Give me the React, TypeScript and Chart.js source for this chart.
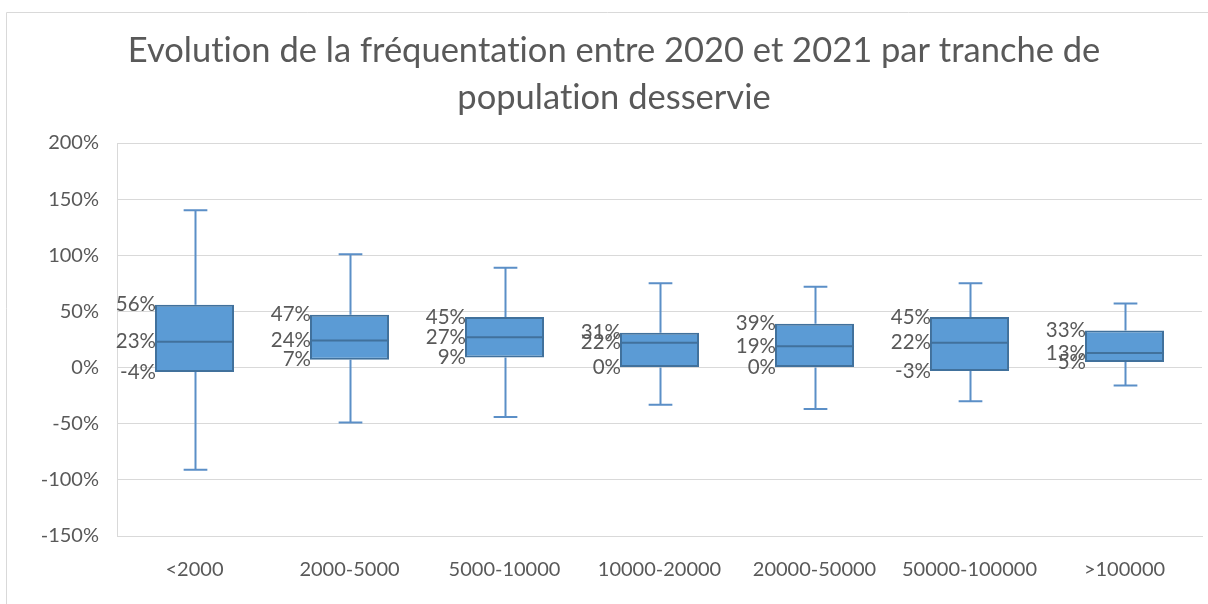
import React, { useEffect, useRef } from "react";
import { Chart, registerables } from "chart.js";

Chart.register(...registerables);

const categories = ["<2000", "2000-5000", "5000-10000", "10000-20000", "20000-50000", "50000-100000", ">100000"];
const minValues = [-91, -49, -44, -33, -37, -30, -16];
const q1Values = [-4, 7, 9, 0, 0, -3, 5];
const medianValues = [23, 24, 27, 22, 19, 22, 13];
const q3Values = [56, 47, 45, 31, 39, 45, 33];
const maxValues = [140, 101, 89, 75, 72, 75, 57];
const yTicks = [-150, -100, -50, 0, 50, 100, 150, 200];
const titleLines = ["Evolution de la fréquentation entre 2020 et 2021 par tranche de", "population desservie"];

const FONT = "Lato, 'Open Sans', sans-serif";
const TEXT = "#595959";
const GRID = "#D9D9D9";
const BOX_FILL = "#5B9BD5";
const BOX_EDGE = "#41719C";
const WHISKER = "#5B8FC7";

const boxPlugin = {
  id: "boxExtras",
  beforeDraw(chart: any) {
    const ctx = chart.ctx;
    ctx.save();
    ctx.strokeStyle = GRID;
    ctx.lineWidth = 1;
    ctx.beginPath();
    ctx.moveTo(6.5, chart.height + 5);
    ctx.lineTo(6.5, 12.5);
    ctx.lineTo(chart.width + 5, 12.5);
    ctx.stroke();
    ctx.fillStyle = TEXT;
    ctx.font = `34.5px ${FONT}`;
    try { (ctx as any).textRendering = "optimizeSpeed"; } catch (e) {}
    ctx.textAlign = "center";
    ctx.textBaseline = "middle";
    titleLines.forEach((l, i) => ctx.fillText(l, 614, 51 + i * 47));
    ctx.restore();
  },
  beforeDatasetsDraw(chart: any) {
    const ctx = chart.ctx;
    const y = chart.scales.y;
    const meta = chart.getDatasetMeta(0);
    ctx.save();
    ctx.strokeStyle = WHISKER;
    ctx.lineWidth = 2;
    meta.data.forEach((bar: any, i: number) => {
      const x = Math.round(bar.x) + 0.5;
      const cap = bar.width * 0.3;
      const yMax = y.getPixelForValue(maxValues[i]);
      const yMin = y.getPixelForValue(minValues[i]);
      ctx.beginPath();
      ctx.moveTo(x, y.getPixelForValue(q3Values[i]));
      ctx.lineTo(x, yMax);
      ctx.moveTo(x - cap / 2, yMax);
      ctx.lineTo(x + cap / 2, yMax);
      ctx.moveTo(x, y.getPixelForValue(q1Values[i]));
      ctx.lineTo(x, yMin);
      ctx.moveTo(x - cap / 2, yMin);
      ctx.lineTo(x + cap / 2, yMin);
      ctx.stroke();
    });
    ctx.restore();
  },
  afterDatasetsDraw(chart: any) {
    const ctx = chart.ctx;
    const y = chart.scales.y;
    const meta = chart.getDatasetMeta(0);
    ctx.save();
    meta.data.forEach((bar: any, i: number) => {
      const left = bar.x - bar.width / 2;
      const right = bar.x + bar.width / 2;
      const ym = y.getPixelForValue(medianValues[i]);
      ctx.strokeStyle = BOX_EDGE;
      ctx.lineWidth = 2;
      ctx.beginPath();
      ctx.moveTo(left, ym);
      ctx.lineTo(right, ym);
      ctx.stroke();
      ctx.fillStyle = TEXT;
      ctx.font = `20.5px ${FONT}`;
      ctx.textAlign = "right";
      ctx.textBaseline = "middle";
      [q3Values[i], medianValues[i], q1Values[i]].forEach((v) => {
        ctx.fillText(`${v}%`, left + 1, y.getPixelForValue(v));
      });
    });
    ctx.restore();
  },
};

export default function App() {
  const ref = useRef<HTMLCanvasElement>(null);
  useEffect(() => {
    if (!ref.current) return;
    const chart = new Chart(ref.current, {
      type: "bar",
      data: {
        labels: categories,
        datasets: [
          {
            data: q1Values.map((q, i) => [q, q3Values[i]]) as any,
            backgroundColor: BOX_FILL,
            borderColor: BOX_EDGE,
            borderWidth: 2,
            borderSkipped: false,
            barPercentage: 0.51,
            categoryPercentage: 1,
          },
        ],
      },
      options: {
        animation: false,
        responsive: false,
        layout: { padding: { top: 143, right: 6, left: 0, bottom: 0 } },
        plugins: { legend: { display: false }, tooltip: { enabled: false }, title: { display: false } },
        scales: {
          x: {
            grid: { display: false, drawTicks: false },
            border: { color: GRID, width: 1 },
            ticks: { color: TEXT, font: { family: FONT, size: 20 }, padding: 22, maxRotation: 0 },
            afterFit: (s: any) => { s.height = 68; },
          },
          y: {
            min: -150,
            max: 200,
            afterBuildTicks: (s: any) => { s.ticks = yTicks.map((v) => ({ value: v })); },
            grid: { color: GRID, lineWidth: 1, drawTicks: false },
            border: { color: GRID, width: 1 },
            ticks: { color: TEXT, font: { family: FONT, size: 20 }, padding: 18, callback: (v: any) => `${v}%` },
            afterFit: (s: any) => { s.width = 117; },
          },
        },
      },
      plugins: [boxPlugin],
    });
    return () => chart.destroy();
  }, []);
  return (
    <div style={{ position: "fixed", left: 0, top: 0, width: 1208, height: 604, background: "#fff" }}>
      <canvas ref={ref} width={1208} height={604} style={{ width: 1208, height: 604 }} />
    </div>
  );
}
